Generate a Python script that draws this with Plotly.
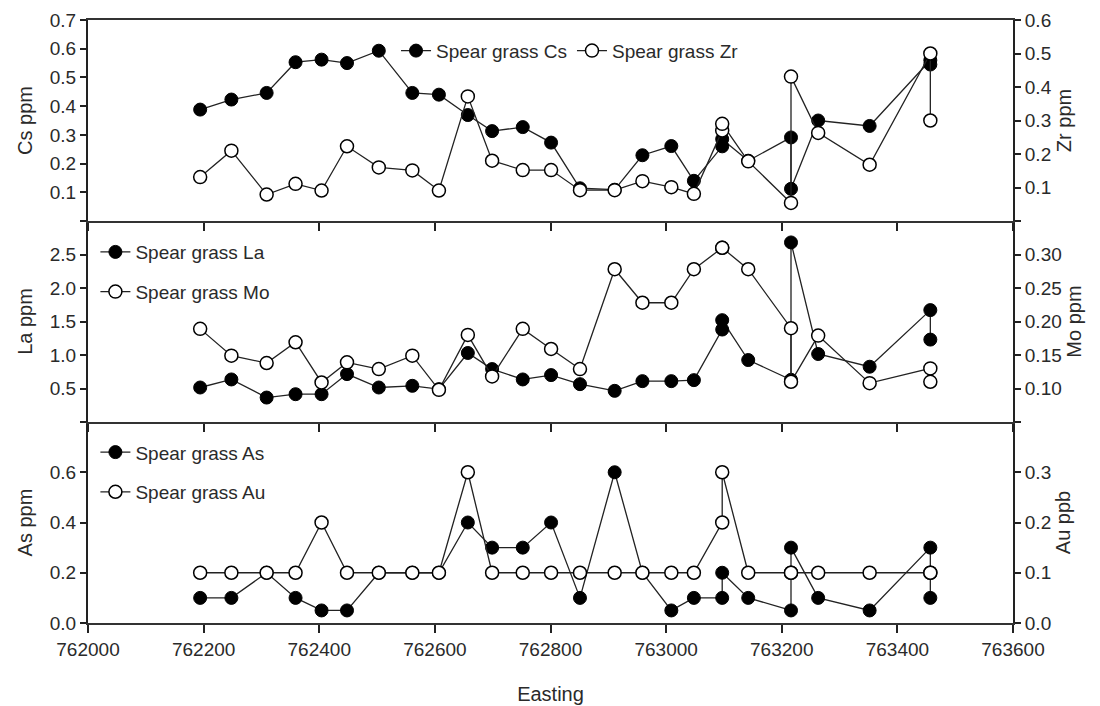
import plotly.graph_objects as go

# ---- data ----
easting = [762194, 762248, 762309, 762359, 762404, 762448, 762503, 762561, 762607,
           762657, 762699, 762752, 762801, 762851, 762911, 762959, 763009, 763048,
           763097, 763097, 763142, 763216, 763216, 763263, 763352, 763457, 763457]

cs = [0.388, 0.423, 0.446, 0.553, 0.562, 0.550, 0.593, 0.446, 0.440,
      0.369, 0.313, 0.327, 0.273, 0.114, 0.109, 0.229, 0.261, 0.140,
      0.260, 0.285, 0.210, 0.291, 0.112, 0.350, 0.331, 0.560, 0.545]

zr = [0.131, 0.210, 0.079, 0.111, 0.091, 0.223, 0.160, 0.151, 0.091,
      0.372, 0.180, 0.152, 0.152, 0.092, 0.092, 0.119, 0.101, 0.081,
      0.270, 0.290, 0.178, 0.054, 0.431, 0.263, 0.168, 0.500, 0.300]

la = [0.515, 0.635, 0.365, 0.415, 0.415, 0.715, 0.515, 0.540, 0.490,
      1.030, 0.790, 0.635, 0.700, 0.565, 0.465, 0.610, 0.610, 0.625,
      1.380, 1.520, 0.925, 0.630, 2.680, 1.015, 0.825, 1.670, 1.230]

mo = [0.189, 0.149, 0.138, 0.169, 0.109, 0.139, 0.129, 0.149, 0.098,
      0.180, 0.118, 0.189, 0.159, 0.129, 0.278, 0.228, 0.228, 0.278,
      0.310, 0.310, 0.278, 0.190, 0.110, 0.179, 0.108, 0.130, 0.110]

as_ = [0.10, 0.10, 0.20, 0.10, 0.05, 0.05, 0.20, 0.20, 0.20,
       0.40, 0.30, 0.30, 0.40, 0.10, 0.60, 0.20, 0.05, 0.10,
       0.10, 0.20, 0.10, 0.05, 0.30, 0.10, 0.05, 0.30, 0.10]

au = [0.1, 0.1, 0.1, 0.1, 0.2, 0.1, 0.1, 0.1, 0.1,
      0.3, 0.1, 0.1, 0.1, 0.1, 0.1, 0.1, 0.1, 0.1,
      0.2, 0.3, 0.1, 0.1, 0.1, 0.1, 0.1, 0.1, 0.1]

x_ticks = [762000, 762200, 762400, 762600, 762800, 763000, 763200, 763400, 763600]
x_text = ["762000", "762200", "762400", "762600", "762800", "763000", "763200",
          "763400", "763600"]
cs_ticks = [0.0, 0.1, 0.2, 0.3, 0.4, 0.5, 0.6, 0.7]
cs_text = ["", "0.1", "0.2", "0.3", "0.4", "0.5", "0.6", "0.7"]
zr_ticks = [0.0, 0.1, 0.2, 0.3, 0.4, 0.5, 0.6]
zr_text = ["", "0.1", "0.2", "0.3", "0.4", "0.5", "0.6"]
la_ticks = [0.0, 0.5, 1.0, 1.5, 2.0, 2.5, 3.0]
la_text = ["", "0.5", "1.0", "1.5", "2.0", "2.5", ""]
mo_ticks = [0.05, 0.10, 0.15, 0.20, 0.25, 0.30, 0.35]
mo_text = ["", "0.10", "0.15", "0.20", "0.25", "0.30", ""]
as_ticks = [0.0, 0.2, 0.4, 0.6, 0.8]
as_text = ["0.0", "0.2", "0.4", "0.6", ""]
au_ticks = [0.0, 0.1, 0.2, 0.3, 0.4]
au_text = ["0.0", "0.1", "0.2", "0.3", ""]

FONT = "Liberation Sans, Arial, sans-serif"
TXT = "#2a2a2a"
LINE = "#222222"
MS = 13

fig = go.Figure()


def filled(x, y, name, xa, ya, leg, grp):
    return go.Scatter(x=x, y=y, name=name, xaxis=xa, yaxis=ya, legend=leg,
                      legendgroup=grp, mode="lines+markers",
                      line=dict(color=LINE, width=1.3),
                      marker=dict(symbol="circle", size=MS, color="black",
                                  line=dict(color="black", width=1)))


def hollow(x, y, name, xa, ya, leg, grp):
    return go.Scatter(x=x, y=y, name=name, xaxis=xa, yaxis=ya, legend=leg,
                      legendgroup=grp, mode="lines+markers",
                      line=dict(color=LINE, width=1.3),
                      marker=dict(symbol="circle", size=MS, color="white",
                                  line=dict(color="black", width=1.5)))


fig.add_trace(filled(easting, cs, "Spear grass Cs", "x3", "y", "legend", "g1"))
fig.add_trace(hollow(easting, zr, "Spear grass Zr", "x3", "y2", "legend", "g2"))
fig.add_trace(filled(easting, la, "Spear grass La", "x2", "y3", "legend2", "g3"))
fig.add_trace(hollow(easting, mo, "Spear grass Mo", "x2", "y4", "legend2", "g4"))
fig.add_trace(filled(easting, as_, "Spear grass As", "x", "y5", "legend3", "g5"))
fig.add_trace(hollow(easting, au, "Spear grass Au", "x", "y6", "legend3", "g6"))

tickfont = dict(family=FONT, size=19, color=TXT)
titlefont = dict(family=FONT, size=20, color=TXT)

xcommon = dict(range=[762000, 763600], tickmode="array", tickvals=x_ticks,
               ticktext=x_text, automargin=False,
               ticks="outside", ticklen=8, tickwidth=1.5, tickcolor=LINE,
               showline=True, linewidth=2, linecolor="#333333",
               showgrid=False, zeroline=False, tickfont=tickfont)

ycommon = dict(ticks="outside", ticklen=6, tickwidth=1.5, tickcolor=LINE,
               showline=True, linewidth=2, linecolor=LINE, showgrid=False,
               zeroline=False, tickfont=tickfont, tickmode="array",
               automargin=False)

legcommon = dict(font=dict(family=FONT, size=19, color=TXT),
                 bgcolor="rgba(0,0,0,0)", borderwidth=0)

fig.update_layout(
    width=1100, height=706,
    margin=dict(l=88, r=87, t=20, b=83),
    paper_bgcolor="white", plot_bgcolor="white",
    font=dict(family=FONT, color=TXT),
    xaxis=dict(domain=[0, 1], anchor="y5",
               title=dict(text="Easting", font=titlefont, standoff=28),
               **xcommon),
    xaxis2=dict(domain=[0, 1], anchor="y3", matches="x", showticklabels=False,
                **xcommon),
    xaxis3=dict(domain=[0, 1], anchor="y", matches="x", showticklabels=False,
                mirror=True, **xcommon),
    yaxis=dict(domain=[2 / 3, 1], anchor="x3", range=[0, 0.7],
               tickvals=cs_ticks, ticktext=cs_text,
               title=dict(text="Cs ppm", font=titlefont, standoff=12), **ycommon),
    yaxis2=dict(overlaying="y", side="right", anchor="x3", range=[0, 0.6],
                tickvals=zr_ticks, ticktext=zr_text,
                title=dict(text="Zr ppm", font=titlefont, standoff=6), **ycommon),
    yaxis3=dict(domain=[1 / 3, 2 / 3], anchor="x2", range=[0, 3.0],
                tickvals=la_ticks, ticktext=la_text,
                title=dict(text="La ppm", font=titlefont, standoff=12), **ycommon),
    yaxis4=dict(overlaying="y3", side="right", anchor="x2", range=[0.05, 0.35],
                tickvals=mo_ticks, ticktext=mo_text,
                title=dict(text="Mo ppm", font=titlefont, standoff=6), **ycommon),
    yaxis5=dict(domain=[0, 1 / 3], anchor="x", range=[0, 0.8],
                tickvals=as_ticks, ticktext=as_text,
                title=dict(text="As ppm", font=titlefont, standoff=12), **ycommon),
    yaxis6=dict(overlaying="y5", side="right", anchor="x", range=[0, 0.4],
                tickvals=au_ticks, ticktext=au_text,
                title=dict(text="Au ppb", font=titlefont, standoff=6), **ycommon),
    legend=dict(orientation="h", x=0.333, y=0.949, xanchor="left",
                yanchor="middle", **legcommon),
    legend2=dict(orientation="v", x=0.008, y=0.582, xanchor="left",
                 yanchor="middle", tracegroupgap=12, **legcommon),
    legend3=dict(orientation="v", x=0.008, y=0.25, xanchor="left",
                 yanchor="middle", tracegroupgap=12, **legcommon),
    showlegend=True,
)

fig.write_html("out.html")
